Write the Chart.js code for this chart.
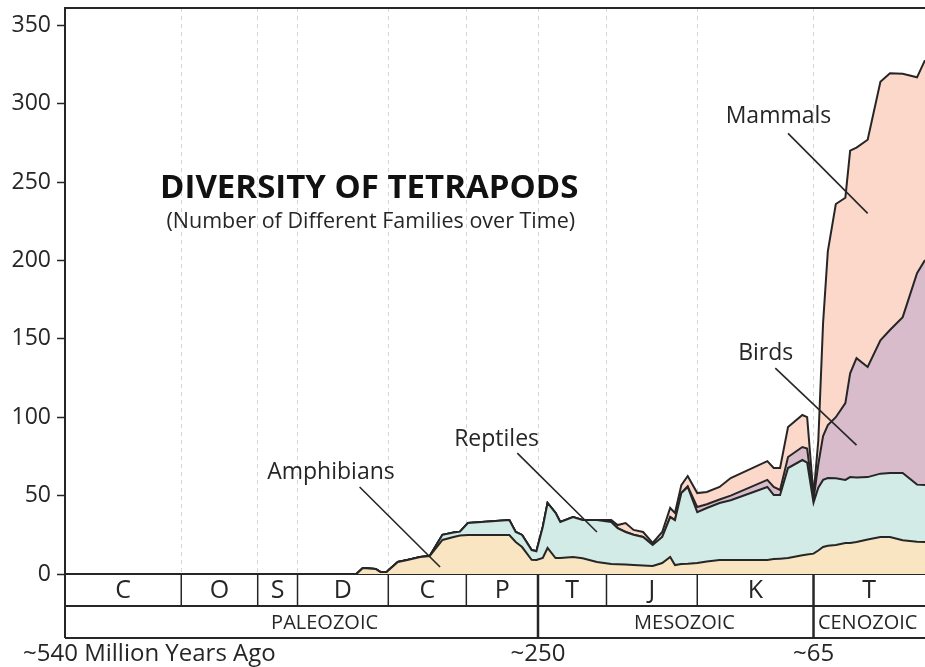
<!DOCTYPE html>
<html>
<head>
<meta charset="utf-8">
<title>Diversity of Tetrapods</title>
<script src="https://cdn.jsdelivr.net/npm/chart.js@4.4.0/dist/chart.umd.min.js"></script>
<style>
    html, body { margin: 0; padding: 0; background: #fff; }
    #wrap { width: 925px; height: 667px; position: relative; }
</style>
</head>
<body>
<div id="wrap"><canvas id="myChart"></canvas></div>
<script>
// time in millions of years (negative = ago), as laid out on the picture
const ages = [-361, -357, -353, -345, -342, -338, -336, -331, -325, -317,
    -311, -303, -296, -292, -287, -261, -257, -253, -247, -244,
    -240, -237, -232, -229, -221, -215, -206, -197, -193, -188,
    -183, -177, -171, -165, -160, -157, -153, -149, -143, -137,
    -129, -122, -99, -95, -91, -86, -77, -74, -70, -67,
    -64, -61, -56, -50, -47, -43, -36, -28, -22, -14, -5, 0];

// number of families in each group (stacked in the chart)
const amphibians = [0, 0, 3.8, 3.2, 1.3, 1.3, 3.2, 7.7, 8.9, 10.8,
    11.5, 21.7, 23.6, 24.5, 24.9, 24.9, 20.4, 17.2, 9, 8.9,
    10.2, 16.6, 10.2, 10.2, 10.8, 10, 7.7, 6.4, 6.2, 6,
    5.8, 5.5, 5.1, 7, 10.8, 5.7, 6.4, 6.5, 7, 8,
    8.9, 9, 9, 9.5, 9.8, 10.2, 12, 12.5, 13, 15,
    17.2, 18, 18.5, 19.8, 19.8, 20.4, 22, 23.6, 23.6, 21.5, 20.5, 20.4];
const reptiles = [0, 0, 0, 0, 0, 0, 0, 0, 0, 0,
    0, 3.3, 2.9, 2.5, 7.6, 9.5, 6.4, 7.7, 6.3, 5.6,
    19.8, 28.7, 28.8, 23, 25.5, 24.4, 26.8, 26.8, 23.1, 20.8,
    19.2, 18.1, 13.4, 16.6, 25.5, 28.7, 45.2, 49, 32.5, 34.1,
    36.4, 38, 46.5, 40.9, 40.6, 57.4, 60.7, 58.5, 32.5, 40,
    42.8, 43.2, 42.5, 40.2, 42, 41.1, 39.8, 40.4, 40.8, 42.9, 36.5, 36.3];
const birds = [0, 0, 0, 0, 0, 0, 0, 0, 0, 0,
    0, 0, 0, 0, 0, 0, 0, 0, 0, 0,
    0, 0, 0, 0, 0, 0, 0, 0, 0, 0,
    0, 0, 0, 0, 0, 0, 0, 0.5, 3.2, 2.4,
    2.2, 3, 4.5, 5.1, 3.2, 7, 8.3, 9, 2, 15,
    28, 33.8, 39, 49, 66.2, 76.2, 70.2, 85, 91.2, 99.4, 134.9, 143.5];
const mammals = [0, 0, 0, 0, 0, 0, 0, 0, 0, 0,
    0, 0, 0, 0, 0, 0, 0, 0, 0, 0,
    0, 0, 0, 0, 0, 0, 0, 1.2, 1.9, 5.7,
    3.1, 3.2, 1.3, 3.2, 5.8, 4.5, 5.1, 6.5, 8.9, 7.8,
    8, 11.2, 12, 12.1, 14, 19.1, 20.4, 20, 2.5, 15,
    72, 111, 136, 131, 142, 134.3, 145, 165, 163.8, 155.2, 124.9, 127.5];

const yTicks = [0, 50, 100, 150, 200, 250, 300, 350];

// geologic time scale as drawn under the chart
const periodNames = ['C', 'O', 'S', 'D', 'C', 'P', 'T', 'J', 'K', 'T'];
const periodStarts = [-540, -467, -419, -394, -337, -288, -243, -200, -143, -70];
const periodEnds = [-467, -419, -394, -337, -288, -243, -200, -143, -70, 0];
const eraNames = ['PALEOZOIC', 'MESOZOIC', 'CENOZOIC'];
const eraStarts = [-540, -243, -70];
const eraLabelAt = [-377, -151, -36];
const ageLabels = ['~540 Million Years Ago', '~250', '~65'];
const ageLabelAt = [-540, -243, -70];

// group names with leader lines (age, families)
const groupNames = ['Mammals', 'Birds', 'Reptiles', 'Amphibians'];
const groupLabelAt = [[-92, 287.5], [-100, 136.4], [-269, 81.6], [-373, 60.9]];
const leaderFrom = [[-86, 281], [-94, 131.3], [-256, 77.1], [-355, 55.5]];
const leaderTo = [[-36, 230], [-43, 82.2], [-206, 26.8], [-304.5, 4.5]];

const FONT = "'Open Sans', sans-serif";
const INK = '#262626';

function series(values) {
    return ages.map((a, i) => ({x: a, y: values[i]}));
}

const geoPlugin = {
    id: 'geoPlugin',
    afterDatasetsDraw(chart) {
        const {ctx, scales: {x, y}} = chart;
        ctx.save();
        // leader lines and group names
        ctx.strokeStyle = INK;
        ctx.lineWidth = 1.6;
        ctx.fillStyle = INK;
        ctx.textAlign = 'center';
        ctx.textBaseline = 'alphabetic';
        ctx.font = '23px ' + FONT;
        groupNames.forEach((name, i) => {
            ctx.beginPath();
            ctx.moveTo(x.getPixelForValue(leaderFrom[i][0]), y.getPixelForValue(leaderFrom[i][1]));
            ctx.lineTo(x.getPixelForValue(leaderTo[i][0]), y.getPixelForValue(leaderTo[i][1]));
            ctx.stroke();
            ctx.fillText(name, x.getPixelForValue(groupLabelAt[i][0]), y.getPixelForValue(groupLabelAt[i][1]));
        });
        // title
        ctx.fillStyle = '#111';
        ctx.font = 'bold 33px ' + FONT;
        ctx.fillText('DIVERSITY OF TETRAPODS', x.getPixelForValue(-349), y.getPixelForValue(239.7));
        ctx.fillStyle = INK;
        ctx.font = '21.5px ' + FONT;
        ctx.fillText('(Number of Different Families over Time)', x.getPixelForValue(-348), y.getPixelForValue(220.6));
        ctx.restore();
    },
    afterDraw(chart) {
        const {ctx, chartArea, scales: {x}} = chart;
        const top = chartArea.top, base = chartArea.bottom;
        const rowH = 32;
        const left = chartArea.left, right = chartArea.right;
        ctx.save();
        ctx.strokeStyle = INK;
        // frame top
        ctx.lineWidth = 2;
        ctx.beginPath();
        ctx.moveTo(left, top);
        ctx.lineTo(right, top);
        ctx.stroke();
        // period and era rows
        ctx.beginPath();
        ctx.moveTo(left, base + rowH);
        ctx.lineTo(right, base + rowH);
        ctx.moveTo(left, base + 2 * rowH);
        ctx.lineTo(right, base + 2 * rowH);
        ctx.moveTo(left, base);
        ctx.lineTo(left, base + 2 * rowH);
        ctx.stroke();
        ctx.lineWidth = 1.5;
        periodStarts.forEach((s, i) => {
            if (i === 0 || eraStarts.includes(s)) return;
            const px = x.getPixelForValue(s);
            ctx.beginPath();
            ctx.moveTo(px, base);
            ctx.lineTo(px, base + rowH);
            ctx.stroke();
        });
        ctx.lineWidth = 2.5;
        eraStarts.slice(1).forEach(s => {
            const px = x.getPixelForValue(s);
            ctx.beginPath();
            ctx.moveTo(px, base);
            ctx.lineTo(px, base + 2 * rowH);
            ctx.stroke();
        });

        ctx.fillStyle = INK;
        ctx.textAlign = 'center';
        ctx.textBaseline = 'middle';
        ctx.font = '25px ' + FONT;
        periodNames.forEach((name, i) => {
            const cx = (x.getPixelForValue(periodStarts[i]) + x.getPixelForValue(periodEnds[i])) / 2;
            ctx.fillText(name, cx, base + rowH / 2 + 1);
        });
        ctx.font = '20px ' + FONT;
        eraNames.forEach((name, i) => {
            ctx.fillText(name, x.getPixelForValue(eraLabelAt[i]), base + rowH * 1.5 + 1);
        });

        // ages under the time scale
        ctx.font = '24px ' + FONT;
        ageLabels.forEach((txt, i) => {
            const px = x.getPixelForValue(ageLabelAt[i]);
            if (i === 0) {
                ctx.textAlign = 'left';
                ctx.fillText(txt, px - 42, base + 2 * rowH + 16);
            } else {
                ctx.textAlign = 'center';
                ctx.fillText(txt, px, base + 2 * rowH + 16);
            }
        });
        ctx.restore();
    }
};

const ctx = document.getElementById('myChart').getContext('2d');
const myChart = new Chart(ctx, {
    type: 'line',
    data: {
        datasets: [
            {label: 'Amphibians', data: series(amphibians), backgroundColor: '#fae5c3', fill: 'origin'},
            {label: 'Reptiles', data: series(reptiles), backgroundColor: '#d2ebe7', fill: '-1'},
            {label: 'Birds', data: series(birds), backgroundColor: '#d8bccb', fill: '-1'},
            {label: 'Mammals', data: series(mammals), backgroundColor: '#fbd8c9', fill: '-1'}
        ]
    },
    options: {
        responsive: true,
        maintainAspectRatio: false,
        animation: false,
        layout: {padding: {top: 8, left: 0, right: 0, bottom: 0}},
        elements: {
            line: {borderColor: INK, borderWidth: 2, tension: 0},
            point: {radius: 0, hoverRadius: 0}
        },
        plugins: {
            legend: {display: false},
            tooltip: {enabled: false}
        },
        scales: {
            x: {
                type: 'linear',
                min: -540,
                max: 0,
                afterBuildTicks: scale => {
                    scale.ticks = periodStarts.slice(1).map(v => ({value: v}));
                },
                afterFit: scale => {
                    scale.height = 93;
                    scale.paddingLeft = 0;
                    scale.paddingRight = 0;
                },
                ticks: {display: false},
                grid: {color: '#d6d6d6', lineWidth: 1, drawTicks: false},
                border: {display: true, color: INK, width: 2, dash: [4, 4]}
            },
            y: {
                stacked: true,
                min: 0,
                max: 361,
                afterBuildTicks: scale => {
                    scale.ticks = yTicks.map(v => ({value: v}));
                },
                afterFit: scale => {
                    scale.width = 65;
                    scale.paddingTop = 0;
                    scale.paddingBottom = 0;
                },
                ticks: {color: INK, padding: 6, font: {size: 23, family: FONT}},
                grid: {drawOnChartArea: false, drawTicks: true, tickLength: 8, tickColor: INK, tickWidth: 1.5},
                border: {display: true, color: INK, width: 2}
            }
        }
    },
    plugins: [geoPlugin]
});
</script>
</body>
</html>
